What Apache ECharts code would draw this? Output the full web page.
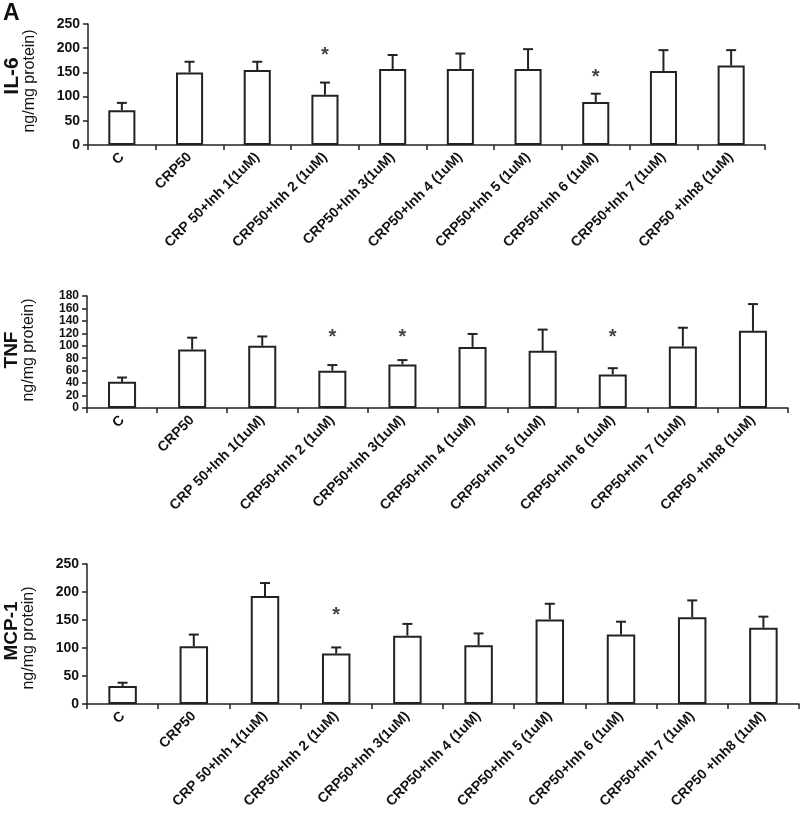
<!DOCTYPE html>
<html>
<head>
<meta charset="utf-8">
<script src="https://cdn.jsdelivr.net/npm/echarts@6/dist/echarts.min.js"></script>
<style>html,body{margin:0;padding:0;background:#fff}#c{width:800px;height:824px}</style>
</head>
<body>
<div id="c"></div>
<script>
const categories = ["C", "CRP50", "CRP 50+Inh 1(1uM)", "CRP50+Inh 2 (1uM)", "CRP50+Inh 3(1uM)", "CRP50+Inh 4 (1uM)", "CRP50+Inh 5 (1uM)", "CRP50+Inh 6 (1uM)", "CRP50+Inh 7 (1uM)", "CRP50 +Inh8 (1uM)"];

const il6Values = [72, 150, 155, 104, 157, 157, 157, 89, 153, 164];
const il6Err = [15, 22, 17, 25, 29, 32, 41, 17, 43, 32];
const il6Stars = [[3, 194], [7, 147]];

const tnfValues = [42, 94, 100, 60, 70, 98, 92, 54, 99, 124];
const tnfErr = [7, 19, 15, 9, 7, 21, 34, 10, 30, 43];
const tnfStars = [[3, 120], [4, 120], [7, 120]];

const mcpValues = [32, 103, 193, 90, 122, 105, 151, 124, 155, 136];
const mcpErr = [6, 21, 23, 11, 21, 21, 28, 23, 30, 20];
const mcpStars = [[3, 166]];

const FONT = '"Liberation Sans", Arial, sans-serif';
const ink = '#222';

const grids = [
  {left: 88, right: 35, top: 24, bottom: 679},
  {left: 87, right: 12, top: 296, bottom: 416},
  {left: 87, right: 1, top: 564, bottom: 120}
];
const yDefs = [
  {max: 250, interval: 50, fs: 14},
  {max: 180, interval: 20, fs: 12},
  {max: 250, interval: 50, fs: 14}
];

const xAxes = grids.map((g, i) => ({
  type: 'category', gridIndex: i, data: categories,
  axisLine: {lineStyle: {color: ink, width: 1.5}},
  axisTick: {show: true, length: 5, lineStyle: {color: ink, width: 1.5}},
  axisLabel: {rotate: 45, margin: 10, fontFamily: FONT, fontWeight: 'bold', fontSize: 14, color: '#111', interval: 0}
}));
const yAxes = yDefs.map((d, i) => ({
  type: 'value', gridIndex: i, min: 0, max: d.max, interval: d.interval,
  axisLine: {show: true, lineStyle: {color: ink, width: 1.5}},
  axisTick: {show: true, length: 5, lineStyle: {color: ink, width: 1.5}},
  splitLine: {show: false},
  axisLabel: {fontFamily: FONT, fontWeight: 'bold', fontSize: d.fs, color: '#111', margin: 8,
    showMinLabel: true, showMaxLabel: true, hideOverlap: false}
}));

function errRender(params, api) {
  const x = api.value(0), v = api.value(1), e = api.value(2);
  const p0 = api.coord([x, v]);
  const p1 = api.coord([x, v + e]);
  const hw = 5;
  return {type: 'group', children: [
    {type: 'line', shape: {x1: p0[0], y1: p0[1], x2: p1[0], y2: p1[1]}, style: {stroke: ink, lineWidth: 2}},
    {type: 'line', shape: {x1: p1[0] - hw, y1: p1[1], x2: p1[0] + hw, y2: p1[1]}, style: {stroke: ink, lineWidth: 2}}
  ]};
}

const sets = [
  [il6Values, il6Err, il6Stars],
  [tnfValues, tnfErr, tnfStars],
  [mcpValues, mcpErr, mcpStars]
];
const series = [];
sets.forEach((s, i) => {
  series.push({
    type: 'bar', xAxisIndex: i, yAxisIndex: i, data: s[0], barWidth: '40%',
    itemStyle: {color: '#fff', borderColor: ink, borderWidth: 2}, silent: true
  });
  series.push({
    type: 'custom', xAxisIndex: i, yAxisIndex: i, renderItem: errRender,
    data: s[0].map((v, k) => [k, v, s[1][k]]), encode: {x: 0, y: 1}, z: 5, silent: true
  });
  series.push({
    type: 'scatter', xAxisIndex: i, yAxisIndex: i, data: s[2], symbolSize: 1,
    itemStyle: {color: 'rgba(0,0,0,0)'}, silent: true,
    label: {show: true, position: 'inside', formatter: '*', fontFamily: FONT, fontWeight: 'bold', fontSize: 20, color: '#111', offset: [0, 4]}
  });
});

const yTitle = (text, x, y, size, bold) => ({
  type: 'text', x: x, y: y, rotation: Math.PI / 2,
  style: {text: text, fontFamily: FONT, fontSize: size, fontWeight: bold ? 'bold' : 'normal', fill: '#111', align: 'center', verticalAlign: 'middle'}
});

const chart = echarts.init(document.getElementById('c'), null, {renderer: 'canvas'});
chart.setOption({
  animation: false,
  backgroundColor: '#fff',
  grid: grids,
  xAxis: xAxes,
  yAxis: yAxes,
  series: series,
  graphic: [
    {type: 'text', x: 3, y: 2, style: {text: 'A', fontFamily: FONT, fontSize: 23, fontWeight: 'bold', fill: '#111'}},
    yTitle('IL-6', 12, 76, 21, true),
    yTitle('ng/mg protein)', 30, 81, 16, false),
    yTitle('TNF', 12, 350, 19, true),
    yTitle('ng/mg protein)', 29, 350, 16, false),
    yTitle('MCP-1', 12, 631, 19, true),
    yTitle('ng/mg protein)', 29, 638, 16, false)
  ]
});
</script>
</body>
</html>
